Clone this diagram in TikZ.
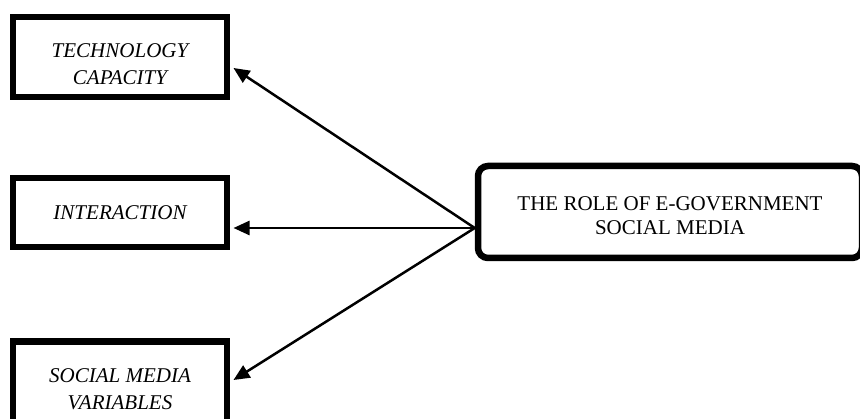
\documentclass[tikz,border=0pt]{standalone}
\usepackage{fontspec}
\setmainfont{Liberation Serif}
\usepackage{tikz}
\usetikzlibrary{arrows.meta}

\begin{document}
\begin{tikzpicture}[x=1pt, y=-1pt, ->, >={Triangle[length=16pt,width=14pt]},
    line width=2.5pt,
    factor/.style={draw, line width=6.5pt, inner sep=0pt, minimum width=214pt,
        align=center, font=\fontsize{21}{27}\selectfont\itshape},
    rolebox/.style={draw, line width=6.5pt, rounded corners=10pt, inner sep=0pt,
        minimum width=384pt, minimum height=92pt, align=center,
        font=\fontsize{21}{24.5}\selectfont}]
    \useasboundingbox (0,0) rectangle (860,419);
    \clip (0,0) rectangle (860,419);

        \node [factor, minimum height=80pt, text height=56pt, text depth=0pt] (tech) at (120,57) {TECHNOLOGY\\CAPACITY};
        \node [factor, minimum height=69pt] (inter) at (120,212.5) {INTERACTION};
        \node [factor, minimum height=95pt] (smv) at (120,389) {SOCIAL MEDIA\\VARIABLES};
        \node [rolebox, text height=46pt, text depth=0pt] (role) at (670,212) {THE ROLE OF E-GOVERNMENT\\SOCIAL MEDIA};

        \coordinate (hub) at ([yshift=-16pt]role.west);

        \path (hub) edge ([xshift=3.25pt, yshift=-11pt]tech.east);
        \path (hub) edge ([xshift=3.25pt, yshift=-15.5pt]inter.east);
        \path (hub) edge ([xshift=3.25pt, yshift=9pt]smv.east);
    \end{tikzpicture}
\end{document}
